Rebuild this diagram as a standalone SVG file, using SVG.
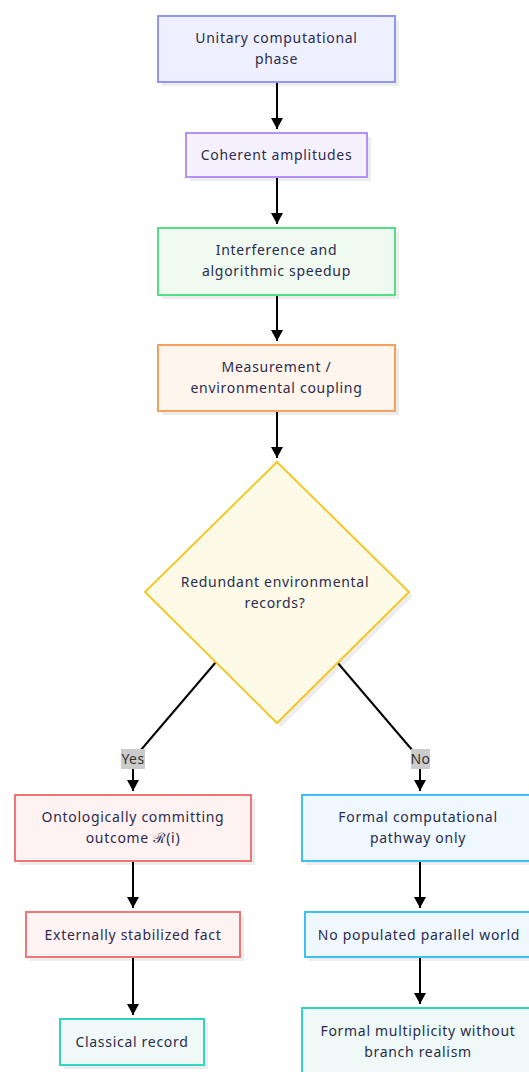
<svg xmlns="http://www.w3.org/2000/svg" width="529" height="1072" viewBox="0 0 529 1072">
<style>
.t{font-family:"Noto Sans","DejaVu Sans","Liberation Sans",sans-serif;font-size:14px;letter-spacing:0.7px;fill:#2b2b4d;text-anchor:middle;dominant-baseline:central}
.n{stroke-width:2}
.sh{fill:#000;opacity:0.07}
.e{stroke:#000;stroke-width:2;fill:none}
.lb{fill:#cccccc}
.lt{font-family:"Noto Sans","DejaVu Sans","Liberation Sans",sans-serif;font-size:14px;letter-spacing:0.4px;fill:#333;text-anchor:middle;dominant-baseline:central}
</style>
<rect width="529" height="1072" fill="#fff"/>
<g id="connectors">
<path class="e" d="M277,82 V129"/>
<path class="e" d="M277,177 V224"/>
<path class="e" d="M277,295 V341"/>
<path class="e" d="M277,411 V458"/>
<path class="e" d="M216,662 L140,751"/>
<path class="e" d="M337,662 L413,751"/>
<path class="e" d="M133,769 V791"/>
<path class="e" d="M420,769 V791"/>
<path class="e" d="M133,861 V908"/>
<path class="e" d="M420,861 V908"/>
<path class="e" d="M133,957 V1015"/>
<path class="e" d="M420,957 V1004"/>
<g fill="#000">
<path d="M271,118 L283,118 L277,129 Z"/>
<path d="M271,213 L283,213 L277,224 Z"/>
<path d="M271,330 L283,330 L277,341 Z"/>
<path d="M271,447 L283,447 L277,458 Z"/>
<path d="M127,780 L139,780 L133,791 Z"/>
<path d="M414,780 L426,780 L420,791 Z"/>
<path d="M127,897 L139,897 L133,908 Z"/>
<path d="M414,897 L426,897 L420,908 Z"/>
<path d="M127,1004 L139,1004 L133,1015 Z"/>
<path d="M414,993 L426,993 L420,1004 Z"/>
</g>
<g id="label-yes"><rect class="lb" x="121" y="749" width="24" height="20"/><text class="lt" x="133" y="758.5">Yes</text></g>
<g id="label-no"><rect class="lb" x="411" y="749" width="19" height="20"/><text class="lt" x="420.5" y="758.5">No</text></g>
</g>
<g id="n1">
<rect class="sh" x="162" y="20" width="237" height="66"/>
<rect class="n" x="158" y="16" width="237" height="66" fill="#eef0ff" stroke="#9297f5"/>
<text class="t" x="276.5" y="37.5">Unitary computational</text>
<text class="t" x="276.5" y="58.5">phase</text>
</g>
<g id="n2">
<rect class="sh" x="190" y="137" width="181" height="44"/>
<rect class="n" x="186" y="133" width="181" height="44" fill="#f6f1ff" stroke="#b591f7"/>
<text class="t" x="276.5" y="154.5">Coherent amplitudes</text>
</g>
<g id="n3">
<rect class="sh" x="162" y="232" width="237" height="67"/>
<rect class="n" x="158" y="228" width="237" height="67" fill="#effaf1" stroke="#55de85"/>
<text class="t" x="276.5" y="249.5">Interference and</text>
<text class="t" x="276.5" y="270.5">algorithmic speedup</text>
</g>
<g id="n4">
<rect class="sh" x="162" y="349" width="237" height="66"/>
<rect class="n" x="158" y="345" width="237" height="66" fill="#fff5ed" stroke="#f6a25e"/>
<text class="t" x="276.5" y="366.5">Measurement /</text>
<text class="t" x="276.5" y="387.5">environmental coupling</text>
</g>
<g id="decision">
<polygon class="sh" points="281,466 413,596 281,727 149,596"/>
<polygon class="n" points="277,462 409,592 277,723 145,592" fill="#fefae8" stroke="#f0c928"/>
<text class="t" x="275" y="581.5">Redundant environmental</text>
<text class="t" x="275" y="602.5">records?</text>
</g>
<g id="y1">
<rect class="sh" x="19" y="799" width="236" height="66"/>
<rect class="n" x="15" y="795" width="236" height="66" fill="#fff2f2" stroke="#f07676"/>
<text class="t" x="133" y="816.5">Ontologically committing</text>
<text class="t" x="133" y="837.5">outcome ℛ(i)</text>
</g>
<g id="y2">
<rect class="sh" x="30" y="916" width="214" height="45"/>
<rect class="n" x="26" y="912" width="214" height="45" fill="#fff2f2" stroke="#f07676"/>
<text class="t" x="133" y="934">Externally stabilized fact</text>
</g>
<g id="y3">
<rect class="sh" x="64" y="1023" width="144" height="46"/>
<rect class="n" x="60" y="1019" width="144" height="46" fill="#effaf8" stroke="#34d5bf"/>
<text class="t" x="132" y="1041.5">Classical record</text>
</g>
<g id="no1">
<rect class="sh" x="306" y="799" width="236" height="66"/>
<rect class="n" x="302" y="795" width="236" height="66" fill="#eff8ff" stroke="#3ec0f5"/>
<text class="t" x="418" y="816.5">Formal computational</text>
<text class="t" x="418" y="837.5">pathway only</text>
</g>
<g id="no2">
<rect class="sh" x="309" y="916" width="230" height="45"/>
<rect class="n" x="305" y="912" width="230" height="45" fill="#eff8ff" stroke="#3ec0f5"/>
<text class="t" x="419" y="934">No populated parallel world</text>
</g>
<g id="no3">
<rect class="sh" x="306" y="1012" width="236" height="66"/>
<rect class="n" x="302" y="1008" width="236" height="66" fill="#effaf8" stroke="#34d5bf"/>
<text class="t" x="418" y="1030.5">Formal multiplicity without</text>
<text class="t" x="418" y="1051.5">branch realism</text>
</g>
</svg>
